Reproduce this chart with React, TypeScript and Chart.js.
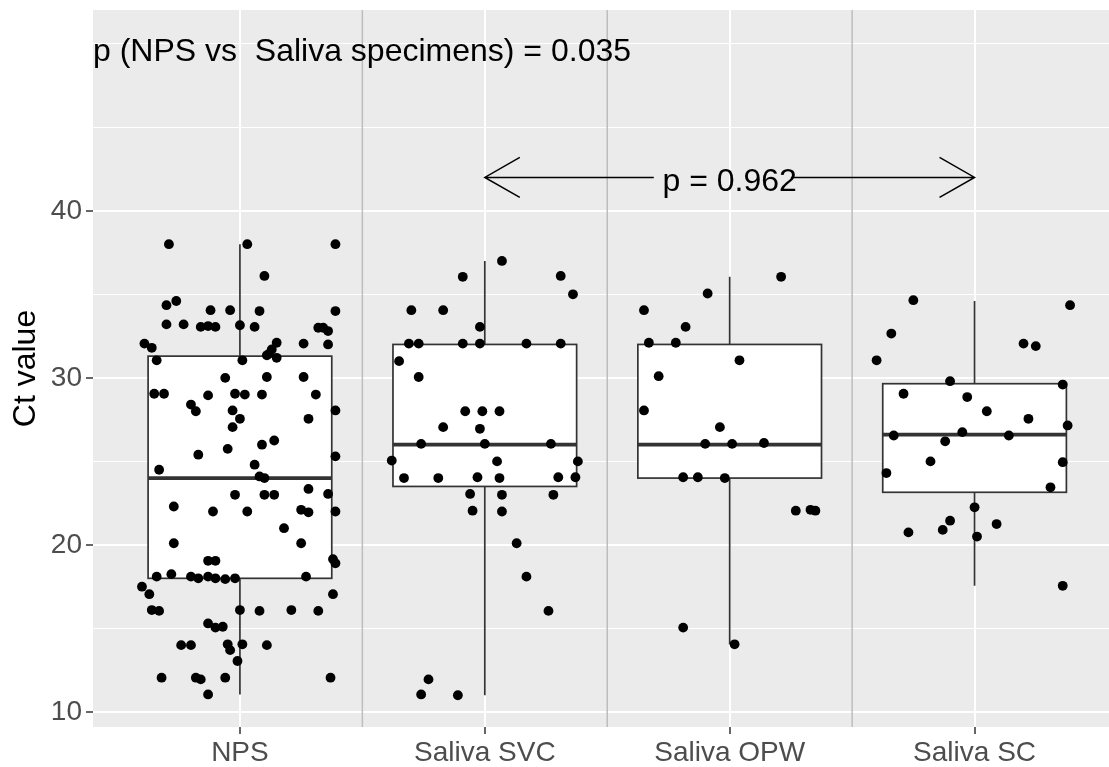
import React, { useEffect, useRef } from 'react';
import { Chart, registerables } from 'chart.js';

Chart.register(...registerables);

const categories = ['NPS', 'Saliva SVC', 'Saliva OPW', 'Saliva SC'];
const yTickValues = [10, 15, 20, 25, 30, 35, 40, 45, 50];
const yLabelValues = [10, 20, 30, 40];
const separatorPositions = [1.5, 2.5, 3.5];

// Box statistics per category
const whiskerLow = [11.05, 11, 14.05, 17.55];
const quartile1 = [18, 23.5, 24, 23.15];
const medians = [24, 26, 26, 26.6];
const quartile3 = [31.3, 32, 32, 29.65];
const whiskerHigh = [38, 37, 36.05, 34.6];

// Jittered points: [horizontal jitter from category centre, Ct value]
const npsPoints = [
  [-0.29, 38.0], [0.03, 38.0], [0.39, 38.0], [0.10, 36.1], [-0.30, 34.35], [-0.26, 34.6], [-0.12, 34.05], [-0.04, 34.05],
  [0.08, 34.0], [0.39, 34.0], [-0.30, 33.2], [-0.23, 33.2], [-0.16, 33.05], [-0.13, 33.1], [-0.10, 33.05], [0.0, 33.15],
  [0.06, 33.05], [0.32, 33.0], [0.34, 33.0], [0.36, 32.8], [-0.39, 32.05], [-0.36, 31.8], [0.15, 32.1], [0.26, 32.05],
  [0.36, 32.0], [0.13, 31.7], [0.11, 31.35], [0.12, 31.45], [0.15, 31.2], [-0.34, 31.05], [0.01, 31.05], [-0.06, 30.0],
  [0.11, 30.05], [0.26, 30.05], [-0.35, 29.05], [-0.31, 29.05], [-0.13, 28.95], [-0.02, 29.05], [0.02, 29.0], [0.09, 29.0],
  [0.31, 29.0], [-0.20, 28.4], [-0.18, 28.0], [-0.03, 28.05], [0.39, 28.05], [0.0, 27.55], [0.28, 27.55], [-0.03, 27.05],
  [0.14, 26.25], [0.09, 26.0], [-0.05, 25.75], [-0.17, 25.4], [0.39, 25.3], [0.06, 24.8], [-0.33, 24.5], [0.08, 24.1],
  [0.10, 24.0], [0.28, 23.35], [0.36, 23.05], [-0.02, 23.0], [0.10, 23.0], [0.14, 23.0], [-0.27, 22.3], [-0.11, 22.0],
  [0.03, 22.0], [0.25, 22.1], [0.28, 21.95], [0.39, 22.0], [0.18, 21.0], [-0.27, 20.1], [0.25, 20.1], [-0.13, 19.05],
  [-0.10, 19.05], [0.38, 19.15], [0.39, 18.9], [-0.34, 18.1], [-0.28, 18.25], [-0.20, 18.1], [-0.17, 18.0], [-0.13, 18.1],
  [-0.10, 18.0], [-0.06, 17.95], [-0.02, 18.0], [0.27, 18.1], [-0.40, 17.5], [-0.37, 17.05], [0.38, 17.05], [-0.36, 16.1],
  [-0.33, 16.05], [0.0, 16.1], [0.08, 16.05], [0.21, 16.1], [0.32, 16.05], [-0.13, 15.3], [-0.10, 15.05], [-0.07, 15.1],
  [-0.24, 14.0], [-0.20, 14.0], [-0.05, 14.05], [0.01, 14.05], [0.11, 14.0], [-0.04, 13.7], [-0.01, 13.05], [-0.32, 12.05],
  [-0.18, 12.05], [-0.16, 11.95], [-0.06, 12.05], [0.37, 12.05], [-0.13, 11.05],
];

const svcPoints = [
  [0.07, 37.0], [-0.09, 36.05], [0.31, 36.1], [0.36, 35.0], [-0.30, 34.05], [-0.17, 34.05], [-0.02, 33.05], [-0.31, 32.05],
  [-0.27, 32.05], [-0.09, 32.05], [-0.02, 32.05], [0.17, 32.05], [0.31, 32.05], [-0.35, 31.0], [-0.27, 30.05], [-0.08, 28.0],
  [-0.01, 28.0], [0.06, 28.0], [-0.17, 27.05], [-0.02, 26.95], [-0.26, 26.05], [0.0, 26.05], [0.27, 26.05], [-0.38, 25.05],
  [0.05, 25.0], [0.38, 25.0], [-0.33, 24.0], [-0.19, 24.0], [-0.03, 24.05], [0.06, 24.0], [0.30, 24.05], [0.37, 24.05],
  [-0.06, 23.05], [0.07, 23.0], [0.28, 23.0], [-0.05, 22.05], [0.07, 22.0], [0.13, 20.1], [0.17, 18.1], [0.26, 16.05],
  [-0.23, 11.95], [-0.26, 11.05], [-0.11, 11.0],
];

const opwPoints = [
  [0.21, 36.05], [-0.09, 35.05], [-0.35, 34.05], [-0.18, 33.05], [-0.33, 32.1], [-0.22, 32.1], [0.04, 31.05], [-0.29, 30.1],
  [-0.35, 28.05], [-0.04, 27.05], [-0.10, 26.05], [0.01, 26.05], [0.14, 26.1], [-0.19, 24.05], [-0.13, 24.05], [-0.02, 24.0],
  [0.27, 22.05], [0.33, 22.1], [0.35, 22.05], [-0.19, 15.05], [0.02, 14.05],
];

const scPoints = [
  [-0.25, 34.65], [0.39, 34.35], [-0.34, 32.65], [0.20, 32.05], [0.25, 31.9], [-0.40, 31.05], [-0.10, 29.8], [0.36, 29.6],
  [-0.29, 29.05], [-0.03, 28.85], [0.05, 28.0], [0.22, 27.55], [0.38, 27.15], [-0.33, 26.55], [-0.05, 26.75], [0.14, 26.55],
  [-0.12, 26.2], [-0.18, 25.0], [0.36, 24.95], [-0.36, 24.3], [0.31, 23.45], [0.0, 22.25], [-0.10, 21.45], [0.09, 21.25],
  [-0.13, 20.9], [-0.27, 20.75], [0.01, 20.5], [0.36, 17.55],
];

const pointGroups = [npsPoints, svcPoints, opwPoints, scPoints];

// Annotations
const titleText = 'p (NPS vs  Saliva specimens) = 0.035';
const titleX = 0.4;
const titleY = 48.95;
const compareText = 'p = 0.962';
const compareFrom = 2;
const compareTo = 4;
const compareTextX = 3;
const compareTextY = 41.2;
const arrowY = 42;
const lineGapStart = 2.69;
const lineGapEnd = 3.25;

const FONT = "'Liberation Sans', Arial, sans-serif";
const BOX_HALF = 0.375;

const boxPlugin = {
  id: 'ggBoxes',
  beforeDraw(chart: any) {
    const { ctx, chartArea } = chart;
    ctx.save();
    ctx.fillStyle = '#EBEBEB';
    ctx.fillRect(chartArea.left, chartArea.top, chartArea.right - chartArea.left, chartArea.bottom - chartArea.top);
    ctx.restore();
  },
  beforeDatasetsDraw(chart: any) {
    const { ctx, chartArea, scales } = chart;
    const x = scales.x;
    const y = scales.y;
    ctx.save();
    ctx.strokeStyle = '#BDBDBD';
    ctx.lineWidth = 1.5;
    separatorPositions.forEach((v) => {
      const px = x.getPixelForValue(v);
      ctx.beginPath();
      ctx.moveTo(px, chartArea.top);
      ctx.lineTo(px, chartArea.bottom);
      ctx.stroke();
    });
    categories.forEach((_, i) => {
      const c = i + 1;
      const cx = x.getPixelForValue(c);
      const l = x.getPixelForValue(c - BOX_HALF);
      const r = x.getPixelForValue(c + BOX_HALF);
      const yLo = y.getPixelForValue(whiskerLow[i]);
      const yQ1 = y.getPixelForValue(quartile1[i]);
      const yMed = y.getPixelForValue(medians[i]);
      const yQ3 = y.getPixelForValue(quartile3[i]);
      const yHi = y.getPixelForValue(whiskerHigh[i]);
      ctx.strokeStyle = '#333333';
      ctx.lineWidth = 1.7;
      ctx.beginPath();
      ctx.moveTo(cx, yHi);
      ctx.lineTo(cx, yQ3);
      ctx.moveTo(cx, yQ1);
      ctx.lineTo(cx, yLo);
      ctx.stroke();
      ctx.fillStyle = '#FFFFFF';
      ctx.fillRect(l, yQ3, r - l, yQ1 - yQ3);
      ctx.strokeRect(l, yQ3, r - l, yQ1 - yQ3);
      ctx.lineWidth = 3.8;
      ctx.beginPath();
      ctx.moveTo(l, yMed);
      ctx.lineTo(r, yMed);
      ctx.stroke();
    });
    ctx.restore();
  },
  afterDatasetsDraw(chart: any) {
    const { ctx, scales } = chart;
    const x = scales.x;
    const y = scales.y;
    ctx.save();
    ctx.fillStyle = '#000000';
    ctx.font = `32px ${FONT}`;
    ctx.textBaseline = 'alphabetic';
    ctx.textAlign = 'left';
    ctx.fillText(titleText, x.getPixelForValue(titleX), y.getPixelForValue(titleY));

    const ay = y.getPixelForValue(arrowY);
    const xa = x.getPixelForValue(compareFrom);
    const xb = x.getPixelForValue(compareTo);
    ctx.strokeStyle = '#000000';
    ctx.lineWidth = 1.5;
    ctx.beginPath();
    ctx.moveTo(xa, ay);
    ctx.lineTo(x.getPixelForValue(lineGapStart), ay);
    ctx.moveTo(x.getPixelForValue(lineGapEnd), ay);
    ctx.lineTo(xb, ay);
    // arrow heads
    ctx.moveTo(xa + 35, ay - 20);
    ctx.lineTo(xa, ay);
    ctx.lineTo(xa + 35, ay + 20);
    ctx.moveTo(xb - 35, ay - 20);
    ctx.lineTo(xb, ay);
    ctx.lineTo(xb - 35, ay + 20);
    ctx.stroke();

    ctx.textAlign = 'center';
    ctx.fillText(compareText, x.getPixelForValue(compareTextX), y.getPixelForValue(compareTextY));
    ctx.restore();
  },
};

export default function App() {
  const canvasRef = useRef<HTMLCanvasElement | null>(null);

  useEffect(() => {
    document.body.style.margin = '0';
    const canvas = canvasRef.current;
    if (!canvas) return;
    const datasets = pointGroups.map((pts, i) => ({
      label: categories[i],
      data: pts.map(([dx, v]) => ({ x: i + 1 + dx, y: v })),
      backgroundColor: '#000000',
      borderColor: '#000000',
      borderWidth: 0,
      pointRadius: 4.9,
      pointHoverRadius: 4.9,
    }));

    const chart = new Chart(canvas, {
      type: 'scatter',
      data: { datasets },
      plugins: [boxPlugin],
      options: {
        responsive: false,
        animation: false,
        events: [],
        layout: { autoPadding: false, padding: { top: 10, right: 0, left: 0, bottom: 0 } },
        plugins: { legend: { display: false }, tooltip: { enabled: false } },
        scales: {
          x: {
            type: 'linear',
            min: 0.4,
            max: 4.549,
            afterBuildTicks: (s: any) => {
              s.ticks = categories.map((_, i) => ({ value: i + 1 }));
            },
            afterFit: (s: any) => {
              s.height = 40;
              s.paddingLeft = 0;
              s.paddingRight = 0;
            },
            ticks: {
              autoSkip: false,
              maxRotation: 0,
              minRotation: 0,
              padding: 2,
              color: '#4D4D4D',
              font: { family: FONT, size: 28 },
              callback: (v: any) => categories[Math.round(Number(v)) - 1] ?? '',
            },
            grid: {
              color: '#FFFFFF',
              lineWidth: 2,
              tickColor: '#333333',
              tickWidth: 1.5,
              tickLength: 7,
            },
            border: { display: false },
          },
          y: {
            type: 'linear',
            min: 9.1,
            max: 52.02,
            afterBuildTicks: (s: any) => {
              s.ticks = yTickValues.map((v) => ({ value: v }));
            },
            afterFit: (s: any) => {
              s.width = 93;
              s.paddingTop = 0;
              s.paddingBottom = 0;
            },
            ticks: {
              padding: 4,
              color: '#4D4D4D',
              font: { family: FONT, size: 28 },
              callback: (v: any) => (yLabelValues.includes(Number(v)) ? String(v) : ''),
            },
            grid: {
              color: '#FFFFFF',
              lineWidth: (c: any) => (yLabelValues.includes(c.tick?.value) ? 2 : 1),
              tickColor: (c: any) => (yLabelValues.includes(c.tick?.value) ? '#333333' : 'rgba(0,0,0,0)'),
              tickWidth: 1.5,
              tickLength: 7,
            },
            border: { display: false },
            title: {
              display: true,
              text: 'Ct value',
              color: '#000000',
              font: { family: FONT, size: 32 },
              padding: { top: 7, bottom: 0 },
            },
          },
        },
      },
    });
    return () => chart.destroy();
  }, []);

  return (
    <div style={{ width: 1109, height: 767, background: '#FFFFFF' }}>
      <canvas ref={canvasRef} width={1109} height={767} style={{ display: 'block' }} />
    </div>
  );
}
